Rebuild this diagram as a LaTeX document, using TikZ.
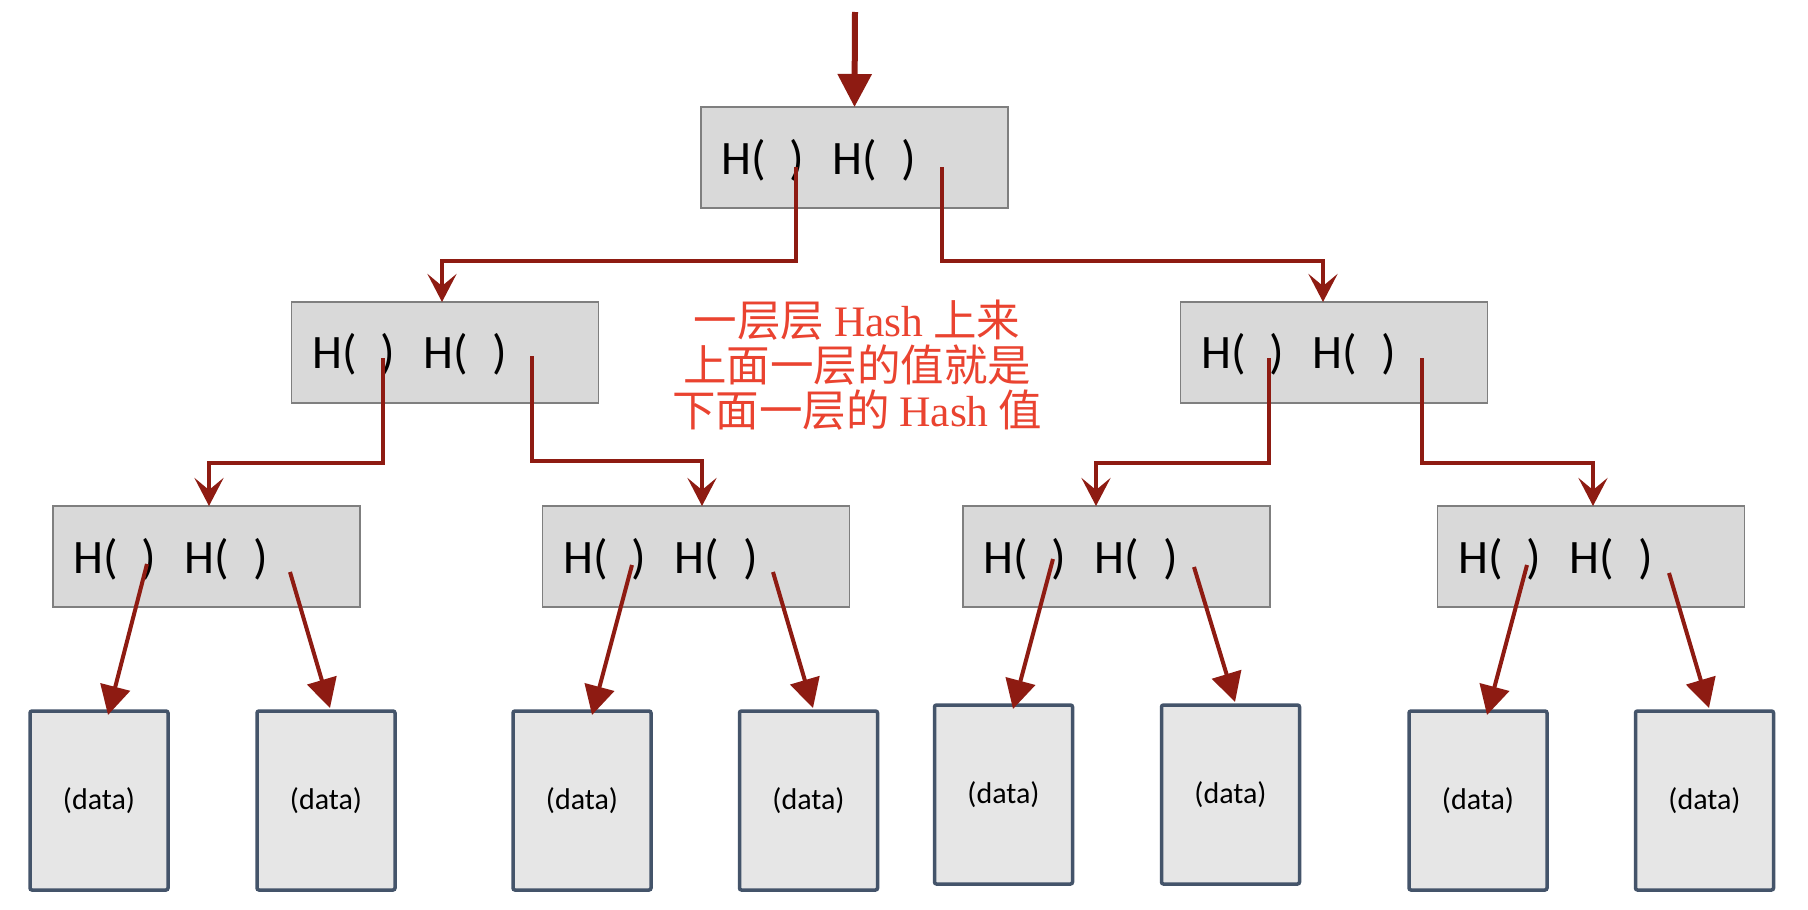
\documentclass[tikz,border=0pt]{standalone}
\usepackage{fontspec}
\setmainfont{Carlito}
\newfontfamily\cjkfont{Noto Sans CJK SC}
\newfontfamily\seriffont{Liberation Serif}
\usetikzlibrary{arrows.meta}
\definecolor{arrowred}{RGB}{142,27,18}
\definecolor{boxgray}{RGB}{127,127,127}
\definecolor{boxfill}{RGB}{217,217,217}
\definecolor{datafill}{RGB}{230,230,230}
\definecolor{slate}{RGB}{68,84,106}
\definecolor{notered}{RGB}{234,67,48}
\newcommand\hpair{H(\hspace{24pt})\hspace{28.5pt}H(\hspace{24pt})}
\begin{document}
\begin{tikzpicture}[x=1pt,y=-1pt,
  hashbox/.style={draw=boxgray, line width=1.5pt, fill=boxfill, minimum width=307pt, minimum height=101pt, inner sep=0pt, outer sep=0pt},
  databox/.style={draw=slate, line width=3.5pt, fill=datafill, rounded corners=2pt, minimum width=138pt, minimum height=179pt, inner sep=0pt, outer sep=0pt, font=\fontsize{30}{36}\selectfont},
  htext/.style={anchor=base west, inner sep=0pt, font=\fontsize{48}{58}\selectfont},
  notetext/.style={anchor=base, inner sep=0pt, text=notered, font=\cjkfont\fontsize{43.5}{52}\selectfont},
  elbow/.style={draw=arrowred, line width=4pt, -{Stealth[length=28pt,width=29pt,inset=12pt]}},
  diagarrow/.style={draw=arrowred, line width=4pt, -{Triangle[length=29pt,width=30pt]}},
  toparrow/.style={draw=arrowred, line width=6pt, -{Triangle[length=33pt,width=33pt]}}]
\path[use as bounding box, fill=white] (0,0) rectangle (1808,910);

% hash boxes
\node[hashbox] (top) at (854.5,157.5) {};
\node[hashbox] (la) at (445,352.5) {};
\node[hashbox] (lb) at (1334,352.5) {};
\node[hashbox] (ba) at (206.5,556.5) {};
\node[hashbox] (bb) at (696,556.5) {};
\node[hashbox] (bc) at (1116.5,556.5) {};
\node[hashbox] (bd) at (1591,556.5) {};

% texts in hash boxes
\node[htext] (top-t) at (721,174) {\hpair};
\node[htext] (la-t) at (312,368) {\hpair};
\node[htext] (lb-t) at (1201,368) {\hpair};
\node[htext] (ba-t) at (73,573) {\hpair};
\node[htext] (bb-t) at (563,573) {\hpair};
\node[htext] (bc-t) at (983,573) {\hpair};
\node[htext] (bd-t) at (1458,573) {\hpair};

% data boxes
\node[databox] (d1) at (99,800.5) {(data)};
\node[databox] (d2) at (326,800.5) {(data)};
\node[databox] (d3) at (582,800.5) {(data)};
\node[databox] (d4) at (808.5,800.5) {(data)};
\node[databox] (d5) at (1003.5,794.5) {(data)};
\node[databox] (d6) at (1230.5,794.5) {(data)};
\node[databox] (d7) at (1478,800.5) {(data)};
\node[databox] (d8) at (1704.5,800.5) {(data)};

% note
\node[notetext] (n1) at (857,336) {一层层 {\seriffont Hash} 上来};
\node[notetext] (n2) at (857,381) {上面一层的值就是};
\node[notetext] (n3) at (857,426) {下面一层的 {\seriffont Hash} 值};

% connector start points
\coordinate (top-in) at (855,12);
\coordinate (top-l) at (796,167);
\coordinate (top-r) at (942,167);
\coordinate (la-l) at (383,358);
\coordinate (la-r) at (532,356);
\coordinate (lb-l) at (1269,358);
\coordinate (lb-r) at (1422,358);
\coordinate (ba-l) at (147,564);
\coordinate (ba-r) at (290,572);
\coordinate (bb-l) at (632,565);
\coordinate (bb-r) at (773,572);
\coordinate (bc-l) at (1053,559);
\coordinate (bc-r) at (1194,567);
\coordinate (bd-l) at (1527,565);
\coordinate (bd-r) at (1669,573);

% connectors
\draw[toparrow] (top-in) -- (top.north);
\draw[elbow] (top-l) -- ++(0,94) -| ([xshift=-3pt]la.north);
\draw[elbow] (top-r) -- ++(0,94) -| ([xshift=-11pt]lb.north);
\draw[elbow] (la-l) -- ++(0,105) -| ([xshift=2.5pt]ba.north);
\draw[elbow] (la-r) -- ++(0,105) -| ([xshift=6pt]bb.north);
\draw[elbow] (lb-l) -- ++(0,105) -| ([xshift=-20.5pt]bc.north);
\draw[elbow] (lb-r) -- ++(0,105) -| ([xshift=2pt]bd.north);

\draw[diagarrow] (ba-l) -- ([xshift=9pt,yshift=-4pt]d1.north);
\draw[diagarrow] (ba-r) -- ([xshift=4pt,yshift=3pt]d2.north);
\draw[diagarrow] (bb-l) -- ([xshift=10pt,yshift=-4pt]d3.north);
\draw[diagarrow] (bb-r) -- ([xshift=4.5pt,yshift=3pt]d4.north);
\draw[diagarrow] (bc-l) -- ([xshift=9.5pt,yshift=-4pt]d5.north);
\draw[diagarrow] (bc-r) -- ([xshift=4.5pt,yshift=3pt]d6.north);
\draw[diagarrow] (bd-l) -- ([xshift=9pt,yshift=-4pt]d7.north);
\draw[diagarrow] (bd-r) -- ([xshift=4.5pt,yshift=3pt]d8.north);
\end{tikzpicture}
\end{document}
